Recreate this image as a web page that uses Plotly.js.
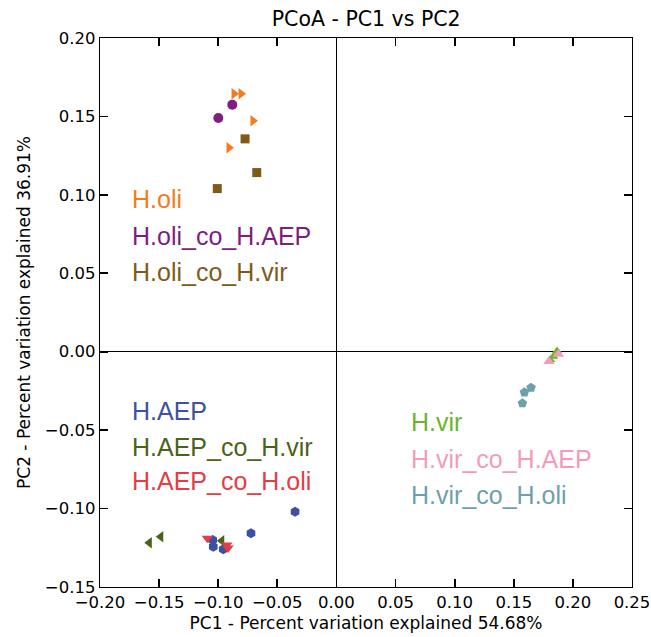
<!DOCTYPE html>
<html>
<head>
<meta charset="utf-8">
<script src="https://cdn.plot.ly/plotly-3.0.1.min.js"></script>
<style>html,body{margin:0;padding:0;background:#fff;}</style>
</head>
<body>
<div id="chart" style="width:651px;height:637px;"></div>
<script>
// Group names
const groups = ["H.oli", "H.oli_co_H.AEP", "H.oli_co_H.vir",
                "H.AEP", "H.AEP_co_H.vir", "H.AEP_co_H.oli",
                "H.vir", "H.vir_co_H.AEP", "H.vir_co_H.oli"];
const colors = ["#f47b20", "#7e1e80", "#7f5b17",
                "#3d51a3", "#4b6318", "#e63c45",
                "#6bb42e", "#f49bbb", "#6e9fac"];
const symbols = ["triangle-right", "circle", "square",
                 "hexagon", "triangle-left", "triangle-down",
                 "triangle-up", "triangle-up", "pentagon"];

// PC1 / PC2 coordinates per group
const pc1_Holi = [-0.0866, -0.0807, -0.0706, -0.0909];
const pc2_Holi = [0.1645, 0.1645, 0.1472, 0.1300];
const pc1_Holi_AEP = [-0.0881, -0.0999];
const pc2_Holi_AEP = [0.1574, 0.1490];
const pc1_Holi_vir = [-0.0773, -0.0674, -0.1008];
const pc2_Holi_vir = [0.1357, 0.1142, 0.1040];
const pc1_HAEP = [-0.0350, -0.0723, -0.1047, -0.1042, -0.0957];
const pc2_HAEP = [-0.1020, -0.1158, -0.1201, -0.1244, -0.1260];
const pc1_HAEP_vir = [-0.1583, -0.1486, -0.0970];
const pc2_HAEP_vir = [-0.1218, -0.1180, -0.1205];
const pc1_HAEP_oli = [-0.1092, -0.0928, -0.0917];
const pc2_HAEP_oli = [-0.1190, -0.1233, -0.1252];
const pc1_Hvir = [0.1807, 0.1835, 0.1866];
const pc2_Hvir = [-0.0052, -0.0031, 0.0005];
const pc1_Hvir_AEP = [0.1798, 0.1877];
const pc2_Hvir_AEP = [-0.0063, -0.0016];
const pc1_Hvir_oli = [0.1646, 0.1590, 0.1573];
const pc2_Hvir_oli = [-0.0229, -0.0259, -0.0329];

const pc1 = [pc1_Holi, pc1_Holi_AEP, pc1_Holi_vir, pc1_HAEP, pc1_HAEP_vir, pc1_HAEP_oli, pc1_Hvir, pc1_Hvir_AEP, pc1_Hvir_oli];
const pc2 = [pc2_Holi, pc2_Holi_AEP, pc2_Holi_vir, pc2_HAEP, pc2_HAEP_vir, pc2_HAEP_oli, pc2_Hvir, pc2_Hvir_AEP, pc2_Hvir_oli];

// Label anchor positions (data coords)
const labelX = [-0.1745, -0.1745, -0.1745, -0.1745, -0.1745, -0.1745, 0.0612, 0.0612, 0.0612];
const labelY = [0.0975, 0.0739, 0.0511, -0.0380, -0.0606, -0.0827, -0.0451, -0.0684, -0.0914];

const traces = groups.map((g, i) => ({
  type: "scatter", mode: "markers", name: g,
  x: pc1[i], y: pc2[i],
  marker: {symbol: symbols[i], color: colors[i], size: i === 2 ? 9 : (i === 6 ? 9 : 10), line: {width: 0}},
  showlegend: false, cliponaxis: false
}));

const annotations = groups.map((g, i) => ({
  x: labelX[i], y: labelY[i], xref: "x", yref: "y",
  text: g, showarrow: false, xanchor: "left", yanchor: "middle",
  font: {family: "Liberation Sans, Arial, sans-serif", size: 25, color: colors[i]}
}));

const axisCommon = {
  showline: true, linecolor: "#000", linewidth: 1.3, mirror: "ticks",
  ticks: "inside", ticklen: 8, tickwidth: 1.8, tickcolor: "#000",
  showgrid: false, zeroline: true, zerolinecolor: "#000", zerolinewidth: 1,
  dtick: 0.05, tickformat: ".2f",
  tickfont: {family: "DejaVu Sans", size: 16.5, color: "#000"}
};

const layout = {
  width: 651, height: 637,
  margin: {l: 100, r: 19, t: 38, b: 50},
  paper_bgcolor: "#fff", plot_bgcolor: "#fff",
  title: {text: "PCoA - PC1 vs PC2", x: 0.5625, xanchor: "center", y: 0.97, yanchor: "middle",
          font: {family: "DejaVu Sans", size: 20.5, color: "#000"}},
  xaxis: Object.assign({}, axisCommon, {
    range: [-0.20, 0.25], tick0: -0.20,
    title: {text: "PC1 - Percent variation explained 54.68%", standoff: 6,
            font: {family: "DejaVu Sans", size: 17, color: "#000"}}
  }),
  yaxis: Object.assign({}, axisCommon, {
    range: [-0.15, 0.20], tick0: -0.15,
    title: {text: "PC2 - Percent variation explained 36.91%", standoff: 10,
            font: {family: "DejaVu Sans", size: 17, color: "#000"}}
  }),
  annotations: annotations
};

Plotly.newPlot("chart", traces, layout, {staticPlot: true});
</script>
</body>
</html>
